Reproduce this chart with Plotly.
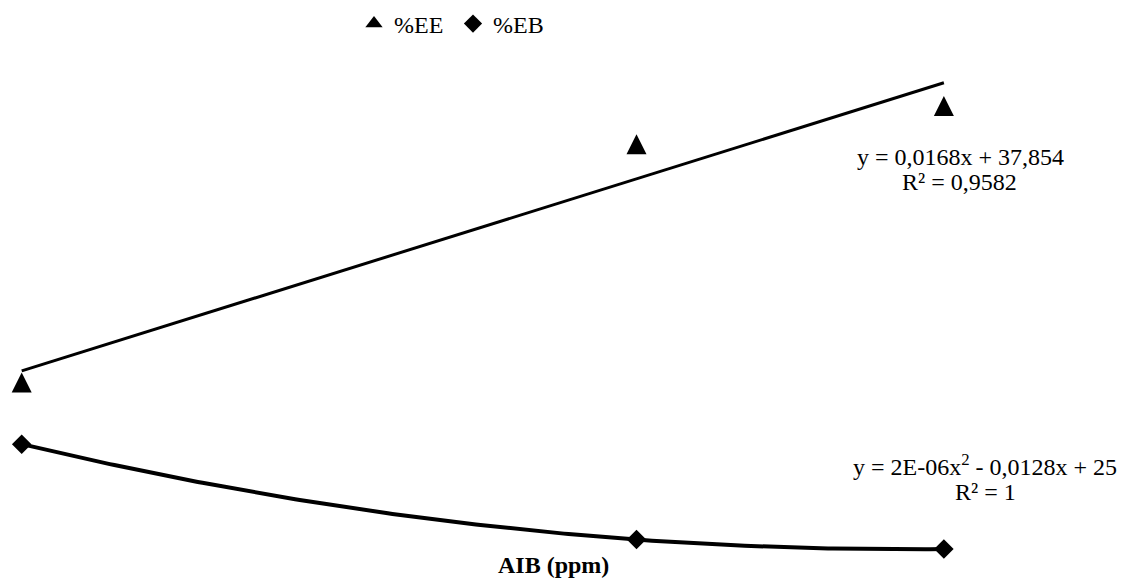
import numpy as np
import plotly.graph_objects as go

# ---- data ----
aib_ppm = [0, 2000, 3000]
pct_ee = [35.8, 77.5, 84.2]
pct_eb = [25.0, 8.3, 6.65]

series_names = ["%EE", "%EB"]
eq_ee = ["y = 0,0168x + 37,854", "R² = 0,9582"]
eq_eb = ["y = 2E-06x<sup>2</sup> - 0,0128x + 25", "R² = 1"]
x_title = "<b>AIB (ppm)</b>"

FONT = "Liberation Serif, Times New Roman, serif"
FS = 24

# ---- trendlines computed from the data ----
xa = np.array(aib_ppm, dtype=float)
lin = np.polyfit(xa, np.array(pct_ee), 1)
quad = np.polyfit(xa, np.array(pct_eb), 2)
x_lin = np.array([xa.min(), xa.max()])
x_quad = np.linspace(xa.min(), xa.max(), 200)

fig = go.Figure()

fig.add_trace(go.Scatter(
    x=x_lin, y=np.polyval(lin, x_lin), mode="lines",
    line=dict(color="black", width=3), showlegend=False, hoverinfo="skip"))
fig.add_trace(go.Scatter(
    x=x_quad, y=np.polyval(quad, x_quad), mode="lines",
    line=dict(color="black", width=4), showlegend=False, hoverinfo="skip"))

# data markers
fig.add_trace(go.Scatter(
    x=aib_ppm, y=pct_ee, mode="markers", name=series_names[0], showlegend=False,
    marker=dict(symbol="arrow-down", angle=180, standoff=10, size=20, color="black"),
    cliponaxis=False))
fig.add_trace(go.Scatter(
    x=aib_ppm, y=pct_eb, mode="markers", name=series_names[1], showlegend=False,
    marker=dict(symbol="diamond", size=15, color="black"),
    cliponaxis=False))

# legend entries
fig.add_trace(go.Scatter(
    x=[None], y=[None], mode="markers", name=series_names[0],
    marker=dict(symbol="triangle-up", size=15, color="black")))
fig.add_trace(go.Scatter(
    x=[None], y=[None], mode="markers", name=series_names[1],
    marker=dict(symbol="diamond", size=14, color="black")))

OFF = 8  # page body margin
W, H = 1132 - OFF, 583 - OFF


def px(p):
    return (p - OFF) / W


def py(p):
    return 1 - (p - OFF) / H


annots = []
for txt, cx, mid in [(eq_ee[0], 960.5, 165 - 8.2), (eq_ee[1], 959.5, 190.5 - 8.2),
                     (eq_eb[0], 985, 475 - 10.5), (eq_eb[1], 985.5, 500 - 8.2)]:
    annots.append(dict(text=txt, x=px(cx), y=py(mid), xref="paper", yref="paper",
                       xanchor="center", yanchor="middle", showarrow=False,
                       font=dict(family=FONT, size=FS, color="black")))
annots.append(dict(text=x_title, x=px(553), y=py(573 - 8.2), xref="paper", yref="paper",
                   xanchor="center", yanchor="middle", showarrow=False,
                   font=dict(family=FONT, size=FS, color="black")))

# axis ranges chosen so the hidden axes place the data as in the reference
fig.update_layout(
    width=W, height=H,
    margin=dict(l=0, r=0, t=0, b=0, autoexpand=False),
    paper_bgcolor="white", plot_bgcolor="white",
    font=dict(family=FONT, size=FS, color="black"),
    xaxis=dict(range=[-44.6, 3611.9], visible=False),
    yaxis=dict(range=[0.70, 101.33], visible=False),
    showlegend=True,
    legend=dict(orientation="h", x=px(354), xanchor="left", y=py(1.5), yanchor="top",
                font=dict(family=FONT, size=FS, color="black"),
                bgcolor="rgba(0,0,0,0)", itemwidth=30, entrywidth=54),
    annotations=annots,
)

fig.write_html("out.html")
